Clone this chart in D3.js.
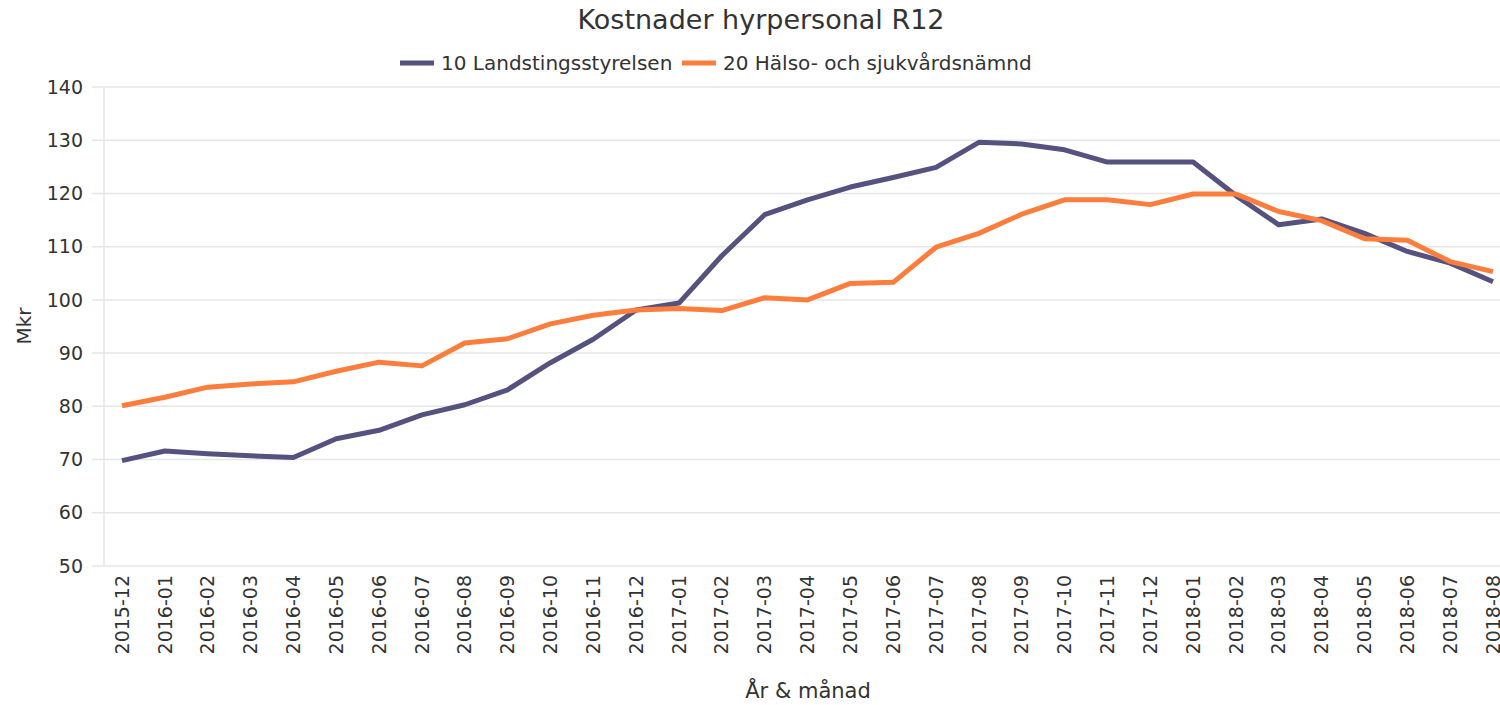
<!DOCTYPE html>
<html>
<head>
<meta charset="utf-8">
<script src="https://cdn.jsdelivr.net/npm/d3@7"></script>
<style>
  body { margin: 0; background: #fff; }
  text { font-family: "DejaVu Sans", Verdana, sans-serif; fill: #333; }
</style>
</head>
<body>
<script>
// Month labels on the x axis
var months = ["2015-12", "2016-01", "2016-02", "2016-03", "2016-04", "2016-05", "2016-06",
  "2016-07", "2016-08", "2016-09", "2016-10", "2016-11", "2016-12", "2017-01", "2017-02",
  "2017-03", "2017-04", "2017-05", "2017-06", "2017-07", "2017-08", "2017-09", "2017-10",
  "2017-11", "2017-12", "2018-01", "2018-02", "2018-03", "2018-04", "2018-05", "2018-06",
  "2018-07", "2018-08"];

// Series values (Mkr)
var landsting = [69.8, 71.6, 71.1, 70.7, 70.4, 73.9, 75.5, 78.4, 80.3, 83.1, 88.2, 92.6, 98.1,
  99.4, 108.3, 116.0, 118.8, 121.2, 123.0, 124.9, 129.6, 129.3, 128.2, 125.9, 125.9, 125.9,
  119.6, 114.1, 115.2, 112.5, 109.1, 106.9, 103.4];
var halso = [80.1, 81.7, 83.6, 84.2, 84.6, 86.6, 88.3, 87.6, 91.9, 92.7, 95.5, 97.1, 98.1,
  98.4, 98.0, 100.4, 100.0, 103.1, 103.3, 109.9, 112.5, 116.1, 118.8, 118.8, 117.9, 119.9,
  119.9, 116.6, 114.9, 111.5, 111.2, 107.2, 105.3];

var seriesNames = ["10 Landstingsstyrelsen", "20 Hälso- och sjukvårdsnämnd"];
var seriesColors = ["#56527f", "#fd7e3c"];
var yTicks = [50, 60, 70, 80, 90, 100, 110, 120, 130, 140];

var width = 1500, height = 705;
var plotLeft = 104, plotRight = 1500, plotTop = 87, plotBottom = 566;

var svg = d3.select("body").append("svg")
  .attr("width", width)
  .attr("height", height);

var x = d3.scalePoint().domain(months).range([122, 1493]);
var y = d3.scaleLinear().domain([50, 140]).range([plotBottom, plotTop]);

// grid lines + left tick stubs
svg.append("g").selectAll("line")
  .data(yTicks)
  .enter().append("line")
  .attr("x1", 92).attr("x2", plotRight)
  .attr("y1", function(d) { return y(d); })
  .attr("y2", function(d) { return y(d); })
  .style("stroke", "#e6e6e6")
  .style("stroke-width", 1.5);

// y axis line
svg.append("line")
  .attr("x1", plotLeft).attr("x2", plotLeft)
  .attr("y1", plotTop).attr("y2", plotBottom)
  .style("stroke", "#e6e6e6")
  .style("stroke-width", 1.5);

// y tick labels
svg.append("g").selectAll("text")
  .data(yTicks)
  .enter().append("text")
  .attr("x", 83)
  .attr("y", function(d) { return y(d); })
  .attr("dy", "0.35em")
  .attr("text-anchor", "end")
  .style("font-size", "19px")
  .text(function(d) { return d; });

// x tick labels, rotated
svg.append("g").selectAll("text")
  .data(months)
  .enter().append("text")
  .attr("transform", function(d) { return "translate(" + x(d) + ",575) rotate(-90)"; })
  .attr("dy", "0.35em")
  .attr("text-anchor", "end")
  .style("font-size", "19px")
  .text(function(d) { return d; });

// lines
var line = d3.line()
  .x(function(d, i) { return x(months[i]); })
  .y(function(d) { return y(d); });

[landsting, halso].forEach(function(s, i) {
  svg.append("path")
    .datum(s)
    .attr("d", line)
    .style("fill", "none")
    .style("stroke", seriesColors[i])
    .style("stroke-width", 5)
    .style("stroke-linejoin", "round");
});

// title
svg.append("text")
  .attr("x", 761).attr("y", 29)
  .attr("text-anchor", "middle")
  .style("font-size", "27px")
  .text("Kostnader hyrpersonal R12");

// legend
var legendX = [400, 682];
seriesNames.forEach(function(name, i) {
  svg.append("line")
    .attr("x1", legendX[i]).attr("x2", legendX[i] + 34)
    .attr("y1", 63).attr("y2", 63)
    .style("stroke", seriesColors[i])
    .style("stroke-width", 5);
  svg.append("text")
    .attr("x", legendX[i] + 41).attr("y", 70)
    .style("font-size", "20px")
    .text(name);
});

// axis titles
svg.append("text")
  .attr("transform", "translate(31,326) rotate(-90)")
  .attr("text-anchor", "middle")
  .style("font-size", "20px")
  .text("Mkr");

svg.append("text")
  .attr("x", 808).attr("y", 698)
  .attr("text-anchor", "middle")
  .style("font-size", "21px")
  .text("År & månad");
</script>
</body>
</html>
